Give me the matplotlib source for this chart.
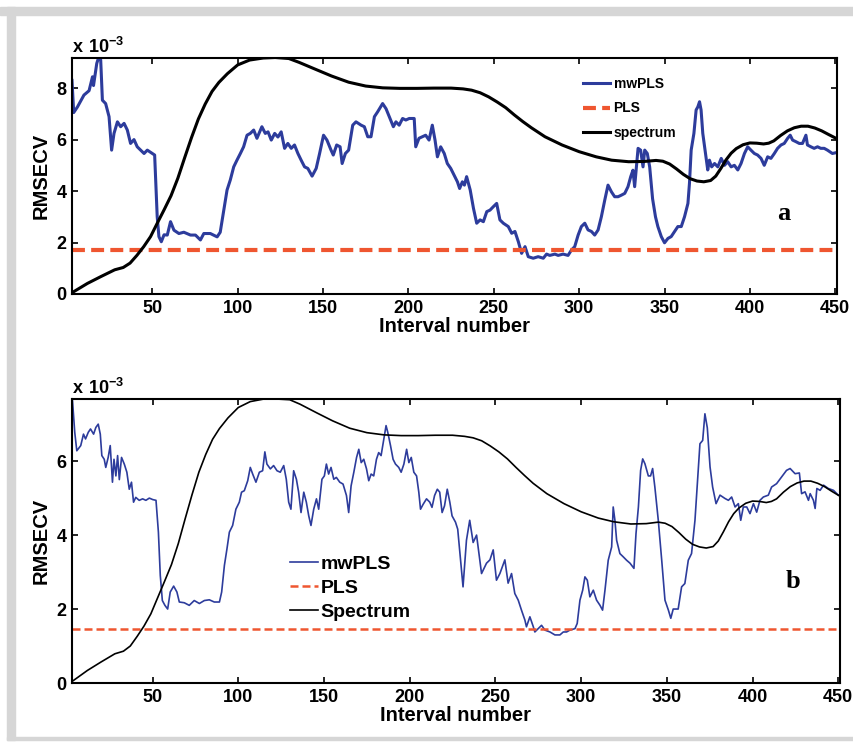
import matplotlib
matplotlib.use("Agg")
import matplotlib.pyplot as plt
from matplotlib.patches import Rectangle

# ---------------------------
# mwPLS vs PLS RMSECV along the interval number (panels a and b)
# values are in units of 1e-3
# ---------------------------

interval_a = [3, 4, 6.2, 10, 13, 15, 15.6, 17.5, 18.5, 19.8, 20.8, 22.7, 24.7, 26.2, 27.6, 29.6,
              31.5, 33.5, 35.4, 37.3, 39.3, 41.2, 43.2, 45.2, 47.1, 50, 51.4, 52.9, 53.9, 55.3,
              56.9, 58.8, 60.7, 62.7, 65.6, 68.5, 72.4, 75.3, 78.2, 80.2, 84, 88, 89.8, 91.9,
              93.8, 95.7, 97.7, 99.6, 101.6, 103.5, 105.5, 107.4, 109.4, 111.3, 114.2, 116.2,
              117.8, 119.7, 121.7, 123.6, 125.5, 127.5, 129.4, 131.4, 133.3, 135.3, 137.2,
              139.2, 141.1, 143.6, 146, 148, 150.3, 152.3, 154.7, 156, 158, 160, 161.2, 163.1,
              165, 167.4, 169.3, 172.3, 174.2, 176.2, 178.1, 180.1, 182, 184.9, 186.9, 188.8,
              191.2, 192.7, 194.6, 196.6, 198.5, 200.5, 203.4, 204.3, 206.2, 208.2, 210.1,
              212.1, 214, 215.6, 217, 218.9, 221, 222.8, 224.8, 226.7, 228.7, 230, 231.6,
              232.8, 234.1, 236.2, 238.1, 240, 242, 243.9, 245.9, 247.8, 249.7, 251.7, 253.6,
              255.6, 258.5, 260.5, 262.4, 264.4, 266.3, 268.3, 270.2, 273.1, 276, 279, 280.9,
              282.8, 285.8, 287.7, 290.6, 293.5, 295.5, 297.4, 299.4, 301.3, 303.3, 305.2,
              307.2, 309.1, 311.1, 313, 315, 316.9, 318.9, 320.8, 322.8, 324.7, 326.7, 328.6,
              330.2, 331.5, 332.5, 333.5, 334.5, 336, 337.4, 338.4, 339.9, 341.3, 343, 344.7,
              346.1, 348.1, 350, 352, 353.9, 355.9, 357.8, 359.8, 361.7, 363.7, 364.6, 365.6,
              367.2, 368.5, 369.5, 370.5, 371.4, 372.4, 373.7, 375.3, 376.3, 377.6, 379.3,
              381.2, 383.2, 385.1, 387, 389, 390.9, 392.9, 394.8, 396.8, 398.7, 400.6, 402.6,
              404.5, 406.5, 408.4, 410.4, 412.3, 414.3, 416.2, 418.2, 420.1, 422.1, 423.6, 425,
              426.9, 428.9, 430.8, 432.8, 433.7, 435.7, 437.6, 439.6, 441.5, 443.5, 445.4,
              448.3, 451]
mwpls_a = [8.3, 7.05, 7.27, 7.73, 7.9, 8.44, 8.1, 8.96, 9.17, 9.1, 7.53, 7.4, 6.89, 5.59, 6.24,
           6.69, 6.5, 6.63, 6.37, 5.85, 6.0, 5.72, 5.59, 5.46, 5.59, 5.46, 5.4, 3.0, 2.23, 2.03,
           2.3, 2.29, 2.81, 2.48, 2.35, 2.4, 2.29, 2.29, 2.1, 2.35, 2.35, 2.22, 2.4, 3.26, 4.04,
           4.43, 4.94, 5.2, 5.46, 5.72, 6.17, 6.24, 6.37, 6.05, 6.5, 6.24, 6.3, 5.98, 6.24, 6.1,
           6.3, 5.66, 5.85, 5.66, 5.79, 5.46, 5.2, 4.94, 4.88, 4.58, 4.88, 5.46, 6.17, 5.98,
           5.59, 5.4, 5.79, 5.72, 5.07, 5.46, 5.59, 6.56, 6.69, 6.56, 6.5, 6.11, 6.11, 6.89,
           7.08, 7.4, 7.2, 6.89, 6.5, 6.69, 6.56, 6.82, 6.76, 6.82, 6.82, 5.72, 6.05, 6.11,
           6.17, 5.98, 6.56, 5.98, 5.33, 5.72, 5.46, 5.07, 4.88, 4.63, 4.36, 4.1, 4.36, 4.23,
           4.56, 4.04, 3.33, 2.75, 2.88, 2.81, 3.2, 3.26, 3.39, 3.52, 2.88, 2.75, 2.62, 2.36,
           2.43, 2.03, 1.58, 1.84, 1.45, 1.39, 1.45, 1.39, 1.55, 1.5, 1.55, 1.5, 1.55, 1.5,
           1.71, 1.84, 2.29, 2.62, 2.75, 2.49, 2.43, 2.29, 2.49, 3.0, 3.65, 4.23, 3.97, 3.78,
           3.78, 3.84, 3.91, 4.17, 4.56, 4.81, 4.17, 4.94, 5.66, 5.59, 4.94, 5.59, 5.46, 4.94,
           3.7, 3.0, 2.62, 2.23, 1.99, 2.16, 2.23, 2.43, 2.62, 2.62, 3.0, 3.52, 4.3, 5.59,
           6.24, 7.15, 7.27, 7.47, 7.15, 6.24, 5.59, 4.82, 5.2, 4.94, 5.07, 4.94, 5.27, 5.0,
           5.14, 4.94, 5.0, 4.82, 5.07, 5.46, 5.72, 5.59, 5.46, 5.4, 5.27, 5.0, 5.33, 5.27,
           5.46, 5.66, 5.79, 5.85, 6.05, 6.17, 5.98, 5.92, 5.85, 5.85, 6.17, 5.79, 5.72, 5.66,
           5.72, 5.66, 5.66, 5.59, 5.46, 5.5]

interval_b = [3, 3.3, 4.6, 5.8, 8.1, 9.7, 10.9, 12.5, 13.8, 15.6, 16.9, 18.3, 19.5, 20.4, 21.8,
              22.7, 24.1, 25.3, 26.6, 27.5, 28.6, 29.6, 30.6, 31.9, 33.5, 35, 36.4, 37.7, 38.9,
              40.2, 42.2, 44.2, 46.1, 48.1, 50.1, 52, 53.4, 54.5, 55.7, 57.2, 58.8, 60.3, 62.3,
              64.2, 65.6, 68.5, 71.4, 74.3, 77.3, 80.2, 83.1, 86, 89, 90.3, 91.9, 93.4, 94.8,
              96.7, 98.6, 100.6, 101.9, 103.5, 105.5, 107, 108.4, 110.3, 112.3, 114.2, 115.5,
              116.7, 118.7, 120.6, 122.6, 124.5, 126.5, 128, 129.4, 130.7, 132.3, 133.9, 135.2,
              136.6, 138.2, 139.7, 141.1, 142.4, 144, 145.6, 146.9, 148.8, 150.2, 151.4, 152.7,
              154.1, 155.7, 157.2, 159.2, 161.1, 163.1, 164.4, 165.8, 167.4, 169, 170.3, 171.7,
              173.2, 174.8, 176.1, 177.5, 179, 180.6, 181.9, 183.3, 184.9, 186.2, 187.2, 188.8,
              190.3, 191.7, 193.6, 195, 196.6, 198.2, 199.5, 200.9, 202.4, 204, 205.3, 206.3,
              207.8, 209.8, 211.7, 213, 214.5, 216.1, 217.5, 218.9, 220.3, 221.9, 223.4, 224.7,
              226.7, 228, 229.6, 231.1, 233.1, 235, 237, 239, 241.9, 244.8, 246.8, 248.7, 250.6,
              252.6, 255.5, 257.4, 259.4, 261.3, 263.3, 265.2, 267.2, 268.1, 270.1, 272.1, 273,
              276.9, 278.9, 281.8, 284.7, 287.6, 289.6, 291.5, 293.4, 296.4, 297.7, 299.3,
              300.9, 302.2, 303.6, 305.1, 307.1, 309, 311, 312.5, 313.9, 315.8, 317.8, 318.7,
              319.7, 320.7, 322.6, 324.6, 326.5, 328.5, 330.8, 332, 333.4, 334.7, 335.9, 337.2,
              339.2, 340.5, 341.7, 343, 345, 347, 348.9, 350.9, 352.3, 353.7, 356.6, 358.6,
              360.5, 362.5, 364.4, 366.4, 368.3, 369.3, 370.9, 372.2, 373.6, 375.2, 376.7,
              378.7, 381, 383.9, 385.9, 387.8, 389.8, 391.7, 393.1, 394.6, 396.6, 398.5, 400.5,
              402.4, 404.3, 406.3, 409.2, 411.1, 414, 416.9, 419.8, 421.9, 424.8, 427.3, 428.6,
              430.6, 432.6, 433.6, 435.5, 436.5, 437.5, 439.4, 441.4, 444.2, 447.2, 450, 451]
mwpls_b = [7.68, 7.63, 6.78, 6.28, 6.42, 6.73, 6.6, 6.78, 6.87, 6.73, 6.91, 7.0, 6.73, 6.15,
           6.05, 5.83, 6.1, 6.42, 5.43, 6.05, 5.6, 6.15, 5.5, 6.1, 5.92, 5.7, 5.24, 5.43, 4.89,
           5.02, 4.94, 4.98, 4.94, 5.0, 4.96, 4.94, 4.08, 2.91, 2.23, 2.1, 2.0, 2.46, 2.62,
           2.46, 2.19, 2.17, 2.1, 2.23, 2.15, 2.23, 2.25, 2.19, 2.19, 2.46, 3.18, 3.63, 4.08,
           4.26, 4.7, 4.89, 5.16, 5.2, 5.47, 5.83, 5.65, 5.43, 5.7, 5.74, 6.25, 5.92, 5.79,
           5.88, 5.74, 5.7, 5.88, 5.51, 4.89, 4.7, 5.74, 5.51, 5.16, 4.61, 5.16, 4.89, 4.52,
           4.26, 4.7, 4.98, 4.7, 5.51, 5.6, 5.92, 5.65, 5.83, 5.51, 5.56, 5.43, 5.38, 5.07,
           4.61, 5.33, 5.7, 6.1, 6.32, 5.96, 6.05, 5.79, 5.47, 5.65, 5.6, 6.05, 6.23, 6.15,
           6.6, 6.96, 6.78, 6.42, 6.05, 5.92, 5.83, 5.7, 5.92, 6.32, 5.96, 6.1, 5.7, 5.6, 5.16,
           4.7, 4.83, 4.98, 4.89, 4.75, 5.07, 5.24, 5.16, 4.61, 4.79, 5.24, 4.89, 4.52, 4.35,
           4.16, 3.36, 2.6, 3.86, 4.4, 3.8, 4.0, 2.96, 3.24, 3.33, 3.6, 2.78, 2.96, 3.33, 2.7,
           2.96, 2.42, 2.24, 1.97, 1.7, 1.52, 1.79, 1.52, 1.38, 1.56, 1.43, 1.38, 1.3, 1.3,
           1.38, 1.38, 1.43, 1.47, 1.61, 2.24, 2.51, 2.87, 2.78, 2.33, 2.51, 2.24, 2.1, 1.97,
           2.51, 3.32, 3.68, 4.76, 4.4, 3.86, 3.5, 3.41, 3.32, 3.24, 3.1, 4.04, 4.76, 5.75,
           6.06, 5.93, 5.6, 5.6, 5.8, 5.3, 4.4, 3.32, 2.24, 1.97, 1.75, 2.0, 2.0, 2.6, 2.69,
           3.32, 3.5, 4.4, 5.75, 6.47, 6.56, 7.28, 6.9, 5.84, 5.3, 4.85, 5.08, 4.99, 4.94,
           5.03, 4.76, 4.85, 4.4, 4.76, 4.76, 4.58, 4.85, 4.62, 4.94, 5.03, 5.08, 5.3, 5.39,
           5.57, 5.75, 5.8, 5.66, 5.68, 5.12, 5.17, 4.94, 5.12, 4.94, 4.72, 5.26, 5.21, 5.35,
           5.26, 5.21, 5.08, 5.1]

spec_x = [3, 12, 20, 28, 33, 37, 41, 45, 49, 53, 57, 61, 65, 69, 73, 77, 81, 85, 89, 94,
          100, 107, 115, 122, 130, 136, 146, 155, 165, 175, 185, 195, 205, 215, 225, 232, 237,
          242, 247, 252, 257, 262, 267, 272, 280, 290, 300, 310, 319, 329, 338, 345, 349, 353,
          357, 361, 365, 369, 373, 377, 380, 383, 386, 389, 392, 396, 400, 404, 408, 411, 414,
          418, 422, 426, 430, 434, 438, 442, 446, 451]
spectrum_a = [0.05, 0.41, 0.68, 0.94, 1.03, 1.2, 1.5, 1.84, 2.23, 2.76, 3.28, 3.82, 4.5, 5.3,
              6.08, 6.8, 7.38, 7.87, 8.22, 8.56, 8.9, 9.09, 9.17, 9.19, 9.15, 9.0, 8.72, 8.47,
              8.23, 8.08, 8.01, 7.99, 7.99, 8.0, 8.0, 7.97, 7.92, 7.82, 7.66, 7.46, 7.24, 6.96,
              6.7, 6.46, 6.11, 5.79, 5.53, 5.33, 5.2, 5.14, 5.15, 5.19, 5.16, 5.05, 4.86, 4.65,
              4.48, 4.39, 4.36, 4.41, 4.58, 4.88, 5.21, 5.47, 5.65, 5.8, 5.87, 5.86, 5.83, 5.86,
              5.95, 6.16, 6.34, 6.46, 6.52, 6.52, 6.45, 6.34, 6.2, 6.03]
spectrum_b = [0.04, 0.34, 0.57, 0.79, 0.86, 1.0, 1.26, 1.54, 1.87, 2.31, 2.75, 3.2, 3.77, 4.44,
              5.09, 5.7, 6.18, 6.59, 6.88, 7.17, 7.45, 7.61, 7.68, 7.68, 7.66, 7.54, 7.3, 7.09,
              6.89, 6.77, 6.71, 6.69, 6.69, 6.7, 6.7, 6.67, 6.63, 6.55, 6.41, 6.25, 6.06, 5.83,
              5.61, 5.4, 5.12, 4.85, 4.63, 4.46, 4.36, 4.3, 4.31, 4.35, 4.32, 4.23, 4.07, 3.89,
              3.75, 3.68, 3.65, 3.69, 3.84, 4.09, 4.36, 4.58, 4.73, 4.86, 4.92, 4.91, 4.88, 4.91,
              4.98, 5.16, 5.31, 5.41, 5.46, 5.46, 5.4, 5.31, 5.19, 5.05]

pls_a = 1.7
pls_b = 1.45

x_ticks = [50, 100, 150, 200, 250, 300, 350, 400, 450]
y_ticks_a = [0, 2, 4, 6, 8]
y_ticks_b = [0, 2, 4, 6]

blue = '#2d3c9c'
red = '#ef5630'

plt.rcParams['font.family'] = ['Liberation Sans', 'DejaVu Sans']
plt.rcParams['font.weight'] = 'bold'
plt.rcParams['mathtext.fontset'] = 'custom'
plt.rcParams['mathtext.rm'] = 'Liberation Sans:bold'
plt.rcParams['mathtext.bf'] = 'Liberation Sans:bold'
plt.rcParams['lines.solid_joinstyle'] = 'round'

W, H = 854, 742
fig = plt.figure(figsize=(W / 100, H / 100), dpi=100)


def px_box(x0, y0, x1, y1):
    return [x0 / W, 1 - y1 / H, (x1 - x0) / W, (y1 - y0) / H]


# grey page frame
for x0, y0, x1, y1 in [(0, 7, W, 15), (7, 7, 15, 740), (7, 737, W, 740)]:
    fig.patches.append(Rectangle((x0 / W, 1 - y1 / H), (x1 - x0) / W, (y1 - y0) / H,
                                 transform=fig.transFigure, color='#d6d6d6', zorder=0))


def style(ax, ymax, yticks):
    ax.set_xlim(3, 451)
    ax.set_ylim(0, ymax)
    ax.set_xticks(x_ticks)
    ax.set_yticks(yticks)
    ax.tick_params(direction='in', top=True, right=True, length=4.5, width=1.2,
                   labelsize=13, pad=4)
    for s in ax.spines.values():
        s.set_linewidth(1.5)
    ax.set_xlabel('Interval number', fontsize=14.5, fontweight='bold', labelpad=0)
    ax.set_ylabel('RMSECV', fontsize=14.5, fontweight='bold', labelpad=4)
    ax.text(0, 1.004, r'$\mathbf{x\ 10^{-3}}$', transform=ax.transAxes, fontsize=13,
            ha='left', va='bottom')


# Panel a
ax1 = fig.add_axes(px_box(72, 58, 837, 294))
ax1.plot(interval_a, mwpls_a, color=blue, lw=2.2, label='mwPLS')
ax1.axhline(pls_a, color=red, lw=3, dashes=(3.1, 1.5), label='PLS')
ax1.plot(spec_x, spectrum_a, color='black', lw=2.2, label='spectrum')
style(ax1, 9.17, y_ticks_a)
ax1.legend(loc='upper left', bbox_to_anchor=(583 / W, 1 - 77 / H), bbox_transform=fig.transFigure,
           frameon=False, prop={'size': 10, 'weight': 'bold'}, handlelength=1.95,
           handletextpad=0.25, labelspacing=0.75, borderpad=0, borderaxespad=0)
fig.text(784 / W, 1 - 213 / H, 'a', family='Liberation Serif', weight='bold', fontsize=19,
         ha='center', va='center')

# Panel b
ax2 = fig.add_axes(px_box(72, 399, 840, 683))
ax2.plot(interval_b, mwpls_b, color=blue, lw=1.2, label='mwPLS')
ax2.axhline(pls_b, color=red, lw=1.8, dashes=(3.2, 1.6), label='PLS')
ax2.plot(spec_x, spectrum_b, color='black', lw=1.2, label='Spectrum')
style(ax2, 7.68, y_ticks_b)
ax2.legend(loc='upper left', bbox_to_anchor=(290 / W, 1 - 555 / H), bbox_transform=fig.transFigure,
           frameon=False, prop={'size': 14, 'weight': 'bold'}, handlelength=1.45,
           handletextpad=0.12, labelspacing=0.33, borderpad=0, borderaxespad=0)
fig.text(793 / W, 1 - 582 / H, 'b', family='Liberation Serif', weight='bold', fontsize=19,
         ha='center', va='center')

fig.savefig('out.png', dpi=100)
